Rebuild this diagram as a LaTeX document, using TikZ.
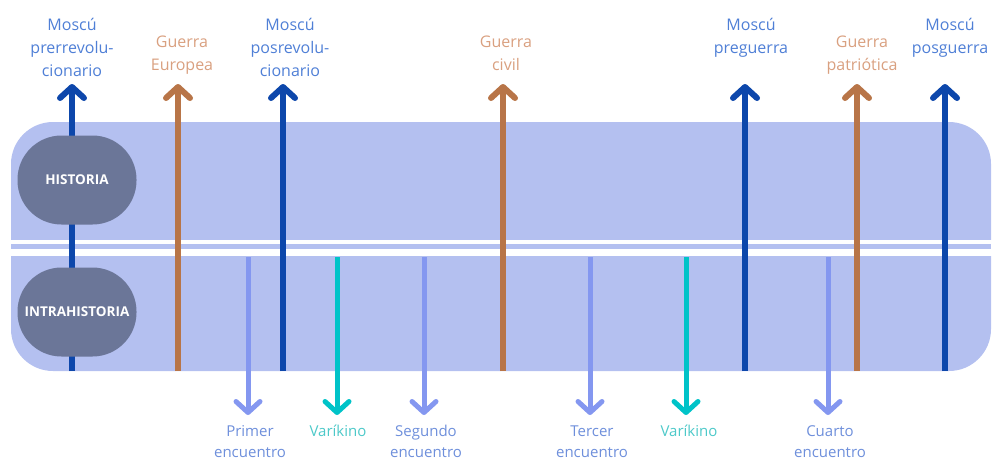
\documentclass[tikz,border=0pt]{standalone}
\usepackage{fontspec}
\setmainfont{Open Sans}
\usetikzlibrary{arrows.meta}
\definecolor{band}{HTML}{B4C0F0}
\definecolor{oval}{HTML}{6B7698}
\definecolor{dblue}{HTML}{0D47AB}
\definecolor{brown}{HTML}{B87548}
\definecolor{peri}{HTML}{8497F0}
\definecolor{teal2}{HTML}{00C3C8}
\definecolor{mtext}{HTML}{4F7FD6}
\definecolor{gtext}{HTML}{D9A080}
\definecolor{etext}{HTML}{6E8FDB}
\definecolor{vtext}{HTML}{4DC9C9}
\tikzset{
  uparrow/.style={line width=6pt,-{Straight Barb[round,length=11pt,width=24pt]}},
  dnarrow/.style={line width=5pt,-{Straight Barb[round,length=11pt,width=24pt]}},
  toplabel/.style={inner sep=0pt,align=center,anchor=base,font=\fontsize{16}{23}\selectfont},
  botlabel/.style={inner sep=0pt,align=center,anchor=base,font=\fontsize{15}{21}\selectfont},
  ovalbox/.style={fill=oval,rounded corners=44pt,minimum width=119pt,minimum height=89pt,inner sep=0pt,text=white,font=\bfseries\fontsize{13.5}{15}\selectfont}
}
\begin{document}
\begin{tikzpicture}[x=1pt,y=-1pt]
\useasboundingbox (0,0) rectangle (992,459);
% band
\fill[band,rounded corners=42pt] (11,122) rectangle (991,371);
\fill[white] (0,240) rectangle (992,256);
\fill[band] (11,244) rectangle (991,249);
% coordinates
\foreach \n/\x in {m1/72,g1/178,m2/283,g2/503,m3/745,g3/857,m4/945}{
  \coordinate (\n b) at (\x,371);
  \coordinate (\n t) at (\x,84);
}
\foreach \n/\x in {e1/248,v1/337,e2/424,e3/590,v2/686,e4/828}{
  \coordinate (\n b) at (\x,257);
  \coordinate (\n t) at (\x,415);
}
% up arrows
\draw[uparrow,dblue] (m1b) -- (m1t);
\draw[uparrow,brown] (g1b) -- (g1t);
\draw[uparrow,dblue] (m2b) -- (m2t);
\draw[uparrow,brown] (g2b) -- (g2t);
\draw[uparrow,dblue] (m3b) -- (m3t);
\draw[uparrow,brown] (g3b) -- (g3t);
\draw[uparrow,dblue] (m4b) -- (m4t);
% down arrows
\draw[dnarrow,peri] (e1b) -- (e1t);
\draw[dnarrow,teal2] (v1b) -- (v1t);
\draw[dnarrow,peri] (e2b) -- (e2t);
\draw[dnarrow,peri] (e3b) -- (e3t);
\draw[dnarrow,teal2] (v2b) -- (v2t);
\draw[dnarrow,peri] (e4b) -- (e4t);
% ovals
\node[ovalbox] (hist) at (77,180) {HISTORIA};
\node[ovalbox] (intra) at (77,312) {INTRAHISTORIA};
% top labels (anchor = baseline of last line)
\node[toplabel,text=mtext] (lm1) at (72,76) {Moscú\\prerrevolu-\\cionario};
\node[toplabel,text=gtext] (lg1) at (182,70) {Guerra\\Europea};
\node[toplabel,text=mtext] (lm2) at (290,76) {Moscú\\posrevolu-\\cionario};
\node[toplabel,text=gtext] (lg2) at (506,70) {Guerra\\civil};
\node[toplabel,text=mtext] (lm3) at (751,53) {Moscú\\preguerra};
\node[toplabel,text=gtext] (lg3) at (862,70) {Guerra\\patriótica};
\node[toplabel,text=mtext] (lm4) at (950,53) {Moscú\\posguerra};
% bottom labels
\node[botlabel,text=etext] (le1) at (250,457) {Primer\\encuentro};
\node[botlabel,text=vtext] (lv1) at (338,436) {Varíkino};
\node[botlabel,text=etext] (le2) at (426,457) {Segundo\\encuentro};
\node[botlabel,text=etext] (le3) at (592,457) {Tercer\\encuentro};
\node[botlabel,text=vtext] (lv2) at (689,436) {Varíkino};
\node[botlabel,text=etext] (le4) at (830,457) {Cuarto\\encuentro};
\end{tikzpicture}
\end{document}
